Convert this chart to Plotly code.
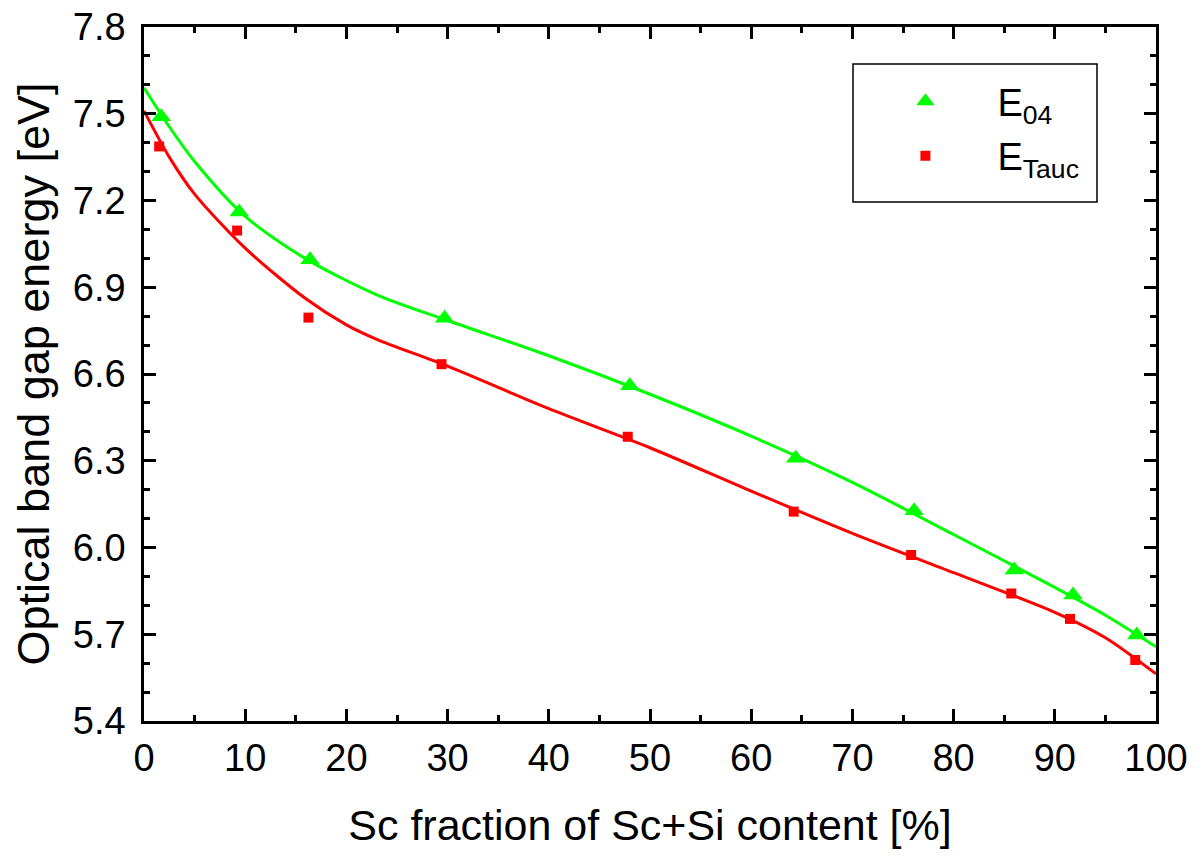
import plotly.graph_objects as go

# Measured band gaps vs. Sc fraction
sc_e04 = [1.7, 9.4, 16.4, 29.7, 48.0, 64.4, 76.1, 86.0, 91.8, 98.1]
e04 = [7.49, 7.16, 6.995, 6.793, 6.559, 6.309, 6.127, 5.922, 5.836, 5.697]

sc_tauc = [1.5, 9.2, 16.25, 29.4, 47.8, 64.2, 75.8, 85.7, 91.5, 97.95]
e_tauc = [7.387, 7.096, 6.795, 6.634, 6.383, 6.124, 5.974, 5.841, 5.753, 5.611]

# Fitted trend curves
fit_x_e04 = [0, 2.5, 5, 10, 16, 23, 30, 40, 50, 60, 70, 80, 90, 95, 100]
fit_e04 = [7.59, 7.455, 7.335, 7.145, 6.998, 6.874, 6.785, 6.663, 6.53,
           6.385, 6.225, 6.045, 5.862, 5.766, 5.657]
fit_x_tauc = [0, 2.5, 5, 10, 16, 20, 23, 30, 40, 50, 60, 70, 80, 90, 95, 100]
fit_tauc = [7.51, 7.35, 7.222, 7.035, 6.86, 6.77, 6.72, 6.627, 6.48, 6.345,
            6.195, 6.049, 5.913, 5.776, 5.688, 5.563]

y_ticks = [5.4, 5.7, 6.0, 6.3, 6.6, 6.9, 7.2, 7.5, 7.8]
x_ticks = [0, 10, 20, 30, 40, 50, 60, 70, 80, 90, 100]

GREEN = "#00ff00"
RED = "#ff0000"
FONT = "Liberation Sans, Arial, sans-serif"

fig = go.Figure()

fig.add_trace(go.Scatter(x=fit_x_e04, y=fit_e04, mode="lines",
                         line=dict(color=GREEN, width=3, shape="spline", smoothing=0.8),
                         showlegend=False, hoverinfo="skip"))
fig.add_trace(go.Scatter(x=fit_x_tauc, y=fit_tauc, mode="lines",
                         line=dict(color=RED, width=3, shape="spline", smoothing=0.8),
                         showlegend=False, hoverinfo="skip"))
fig.add_trace(go.Scatter(x=sc_e04, y=e04, mode="markers", name="E<sub>04</sub>",
                         legendgroup="e04",
                         marker=dict(symbol="triangle-up", size=17, color=GREEN)))
fig.add_trace(go.Scatter(x=sc_tauc, y=e_tauc, mode="markers", name="E<sub>Tauc</sub>",
                         legendgroup="tauc",
                         marker=dict(symbol="square", size=10, color=RED)))

axis_common = dict(
    showgrid=False, zeroline=False, showline=True, linecolor="black", linewidth=2.5,
    mirror="ticks", ticks="inside", ticklen=12, tickwidth=2.5, tickcolor="black",
    tickfont=dict(family=FONT, size=38, color="black"),
)

fig.update_xaxes(
    range=[0, 100], tickvals=x_ticks,
    minor=dict(dtick=5, ticks="inside", ticklen=6, tickwidth=2.5, tickcolor="black"),
    title=dict(text="Sc fraction of Sc+Si content [%]", font=dict(family=FONT, size=43, color="black"),
               standoff=32),
    ticklabelstandoff=2,
    **axis_common,
)
fig.update_yaxes(
    range=[5.4, 7.8], tickvals=y_ticks, tickformat=".1f",
    minor=dict(dtick=0.1, tick0=5.4, ticks="inside", ticklen=6, tickwidth=2.5, tickcolor="black"),
    title=dict(text="Optical band gap energy [eV]", font=dict(family=FONT, size=45, color="black"),
               standoff=10),
    ticklabelstandoff=8,
    **axis_common,
)

# Legend frame
fig.add_shape(type="rect", xref="paper", yref="paper",
              x0=0.7006, x1=0.9417, y0=0.7478, y1=0.9467,
              line=dict(color="black", width=1.5), fillcolor="rgba(0,0,0,0)")

fig.update_layout(
    width=1202, height=857,
    margin=dict(l=144, r=46, t=27, b=136, autoexpand=False),
    paper_bgcolor="white", plot_bgcolor="white",
    font=dict(family=FONT, color="black"),
    legend=dict(
        x=0.701, y=0.938, xanchor="left", yanchor="top",
        borderwidth=0, bgcolor="rgba(0,0,0,0)",
        font=dict(family=FONT, size=38, color="black"),
        itemwidth=134, tracegroupgap=2,
    ),
)

fig.write_html("out.html")
